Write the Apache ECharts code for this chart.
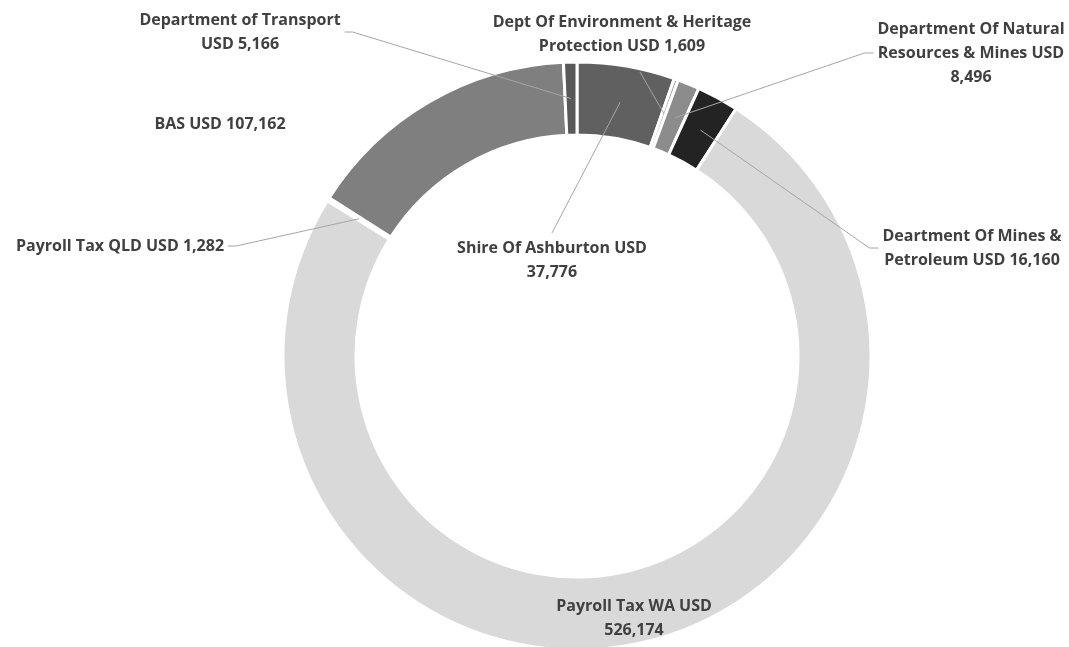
<!DOCTYPE html>
<html>
<head>
<meta charset="utf-8">
<script src="https://cdn.jsdelivr.net/npm/echarts@6/dist/echarts.min.js"></script>
<style>
    html, body { margin: 0; padding: 0; background: #fff; }
    #chart { width: 1069px; height: 647px; }
</style>
</head>
<body>
<div id="chart"></div>
<script>
// slices, clockwise from 12 o'clock
const names = [
    "Shire Of Ashburton",
    "Dept Of Environment & Heritage Protection",
    "Department Of Natural Resources & Mines",
    "Deartment Of Mines & Petroleum",
    "Payroll Tax WA",
    "Payroll Tax QLD",
    "BAS",
    "Department of Transport",
];
const values = [37776, 1609, 8496, 16160, 526174, 1282, 107162, 5166];
const colors = ["#606060", "#a6a6a6", "#8c8c8c", "#232323", "#d9d9d9", "#efefef", "#7f7f7f", "#595959"];
// word count after which each label wraps
const wrapAfter = [[4], [5], [3, 7], [4], [4], [], [], [3]];

// label layout: centre x, centre y, side the leader leaves from (null = no leader)
const CENTER = [577, 356];
const RADII = [221, 294];
const labelSpots = [
    [552, 260, "top"],
    [622, 34, "bottom"],
    [971, 53, "left"],
    [972, 248, "left"],
    [634, 618, null],
    [120, 246, "right"],
    [220, 124, null],
    [240, 32, "right"],
];

const total = values.reduce((a, b) => a + b, 0);

function labelText(i) {
    const words = (names[i] + " USD " + values[i].toLocaleString("en-US")).split(" ");
    let out = "";
    words.forEach((w, k) => {
        if (k > 0) out += wrapAfter[i].includes(k) ? "\n" : " ";
        out += w;
    });
    return out;
}

// middle of the ring at the slice's mid angle
function anchorPoint(i) {
    let before = 0;
    for (let k = 0; k < i; k++) before += values[k];
    const mid = ((before + values[i] / 2) / total) * Math.PI * 2;
    const r = (RADII[0] + RADII[1]) / 2;
    return [CENTER[0] + r * Math.sin(mid), CENTER[1] - r * Math.cos(mid)];
}

const chart = echarts.init(document.getElementById("chart"));

const pieData = names.map((n, i) => ({ name: n, value: values[i] }));

const option = {
    animation: false,
    backgroundColor: "#ffffff",
    series: [
        {
            // the slices
            type: "pie",
            center: CENTER,
            radius: RADII,
            startAngle: 90,
            clockwise: true,
            silent: true,
            z: 2,
            itemStyle: {
                color: (p) => colors[p.dataIndex],
                borderColor: "#ffffff",
                borderWidth: 3,
            },
            label: { show: false },
            labelLine: { show: false },
            data: pieData,
        },
        {
            // same slices, invisible, carrying labels and leader lines on top
            type: "pie",
            center: CENTER,
            radius: RADII,
            startAngle: 90,
            clockwise: true,
            silent: true,
            z: 5,
            avoidLabelOverlap: false,
            itemStyle: { color: "rgba(0,0,0,0)", borderWidth: 0 },
            label: {
                show: true,
                position: "outside",
                color: "#404040",
                fontFamily: "Open Sans",
                fontWeight: "bold",
                fontSize: 16,
                lineHeight: 24,
                align: "center",
                formatter: (p) => labelText(p.dataIndex),
            },
            labelLine: {
                show: true,
                lineStyle: { color: "#a6a6a6", width: 1 },
            },
            labelLayout: function (p) {
                const spot = labelSpots[p.dataIndex];
                const w = p.labelRect.width;
                const h = p.labelRect.height;
                const res = { x: spot[0], y: spot[1], align: "center", verticalAlign: "middle" };
                const a = anchorPoint(p.dataIndex);
                if (spot[2] === "right") {
                    const e = [spot[0] + w / 2 + 4, spot[1]];
                    res.labelLinePoints = [a, [e[0] + 8, e[1]], e];
                } else if (spot[2] === "left") {
                    const e = [spot[0] - w / 2 - 4, spot[1]];
                    res.labelLinePoints = [a, [e[0] - 9, e[1]], e];
                } else if (spot[2] === "top") {
                    const e = [spot[0], spot[1] - h / 2 - 3];
                    res.labelLinePoints = [a, e, e];
                } else if (spot[2] === "bottom") {
                    const e = [spot[0] + 18, spot[1] + h / 2 + 14];
                    res.labelLinePoints = [a, e, e];
                }
                return res;
            },
            data: pieData.map((d, i) => ({
                name: d.name,
                value: d.value,
                labelLine: { show: labelSpots[i][2] !== null },
            })),
        },
    ],
};

chart.setOption(option);
</script>
</body>
</html>
